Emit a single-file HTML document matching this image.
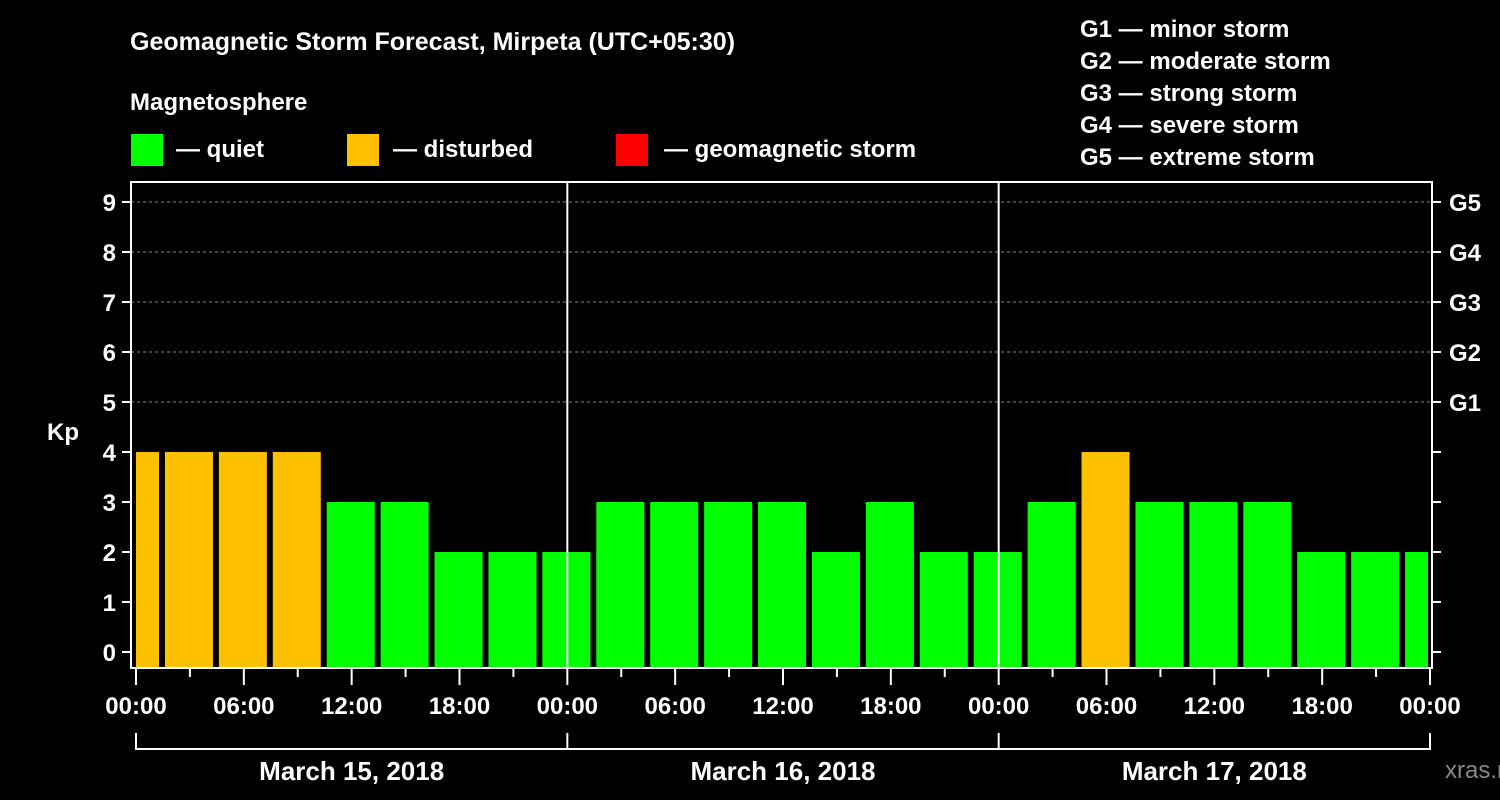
<!DOCTYPE html>
<html><head><meta charset="utf-8"><style>
html,body{margin:0;padding:0;background:#000;}
svg{display:block;font-family:"Liberation Sans",Arial,sans-serif;font-weight:bold;}
</style></head><body>
<svg id="chart" width="1500" height="800" viewBox="0 0 1500 800">
<rect x="0" y="0" width="1500" height="800" fill="#000"/>
<text x="130" y="50" font-size="25" fill="#fff">Geomagnetic Storm Forecast, Mirpeta (UTC+05:30)</text>
<text x="130" y="110" font-size="24" fill="#fff">Magnetosphere</text>
<g><rect x="131" y="134" width="32" height="32" fill="#00ff00"/><text x="176" y="157" font-size="24" fill="#fff">— quiet</text></g>
<g><rect x="347" y="134" width="32" height="32" fill="#ffc000"/><text x="393" y="157" font-size="24" fill="#fff">— disturbed</text></g>
<g><rect x="616" y="134" width="32" height="32" fill="#ff0000"/><text x="664" y="157" font-size="24" fill="#fff">— geomagnetic storm</text></g>
<g font-size="24" fill="#fff">
<text x="1080" y="37">G1 — minor storm</text>
<text x="1080" y="69">G2 — moderate storm</text>
<text x="1080" y="101">G3 — strong storm</text>
<text x="1080" y="133">G4 — severe storm</text>
<text x="1080" y="165">G5 — extreme storm</text>
</g>
<text x="63" y="440" font-size="24" fill="#fff" text-anchor="middle">Kp</text>
<text x="1445" y="778" font-size="24" fill="#888" font-weight="normal">xras.ru</text>
<g id="grid"></g>
<g id="bars"></g>
<g id="axes"></g>
</svg>
<script>
const kpValues=[4,4,4,4,3,3,2,2,2,3,3,3,3,2,3,2,2,3,4,3,3,3,2,2,2];
const yTicks=[0,1,2,3,4,5,6,7,8,9];
const gLabels=["G1","G2","G3","G4","G5"];
const xTickLabels=["00:00","06:00","12:00","18:00","00:00","06:00","12:00","18:00","00:00","06:00","12:00","18:00","00:00"];
const dayLabels=["March 15, 2018","March 16, 2018","March 17, 2018"];
const NS="http://www.w3.org/2000/svg";
const L=131,R=1432,T=182,B=668,X0=136,HPX=(1430-136)/72;
const y=v=>652-50*v;
const x=h=>X0+HPX*h;
function mk(tag,a,parent){const e=document.createElementNS(NS,tag);for(const k in a)e.setAttribute(k,a[k]);parent.appendChild(e);return e;}
const grid=document.getElementById('grid'),bars=document.getElementById('bars'),axes=document.getElementById('axes');
for(let v=5;v<=9;v++){const l=mk('line',{x1:L,x2:R,y1:y(v),y2:y(v),stroke:'#888','stroke-dasharray':'3,3','stroke-width':1},grid);

}
kpValues.forEach((v,i)=>{
 let x1=x(3*i-1.5)+2,x2=x1+48;
 x1=Math.max(x1,X0);x2=Math.min(x2,R-4);
 const c=v>=5?'#ff0000':(v>=4?'#ffc000':'#00ff00');
 const r=mk('rect',{x:x1,y:y(v),width:x2-x1,height:B-y(v),fill:c},bars);
 
 
});
const frame=mk('rect',{x:L,y:T,width:R-L,height:B-T,fill:'none',stroke:'#fff','stroke-width':2},axes);


[1,2].forEach(d=>{const l=mk('line',{x1:x(24*d),x2:x(24*d),y1:T,y2:B,stroke:'#fff','stroke-width':2},axes);

});
yTicks.forEach(v=>{
 mk('line',{x1:L-9,x2:L,y1:y(v),y2:y(v),stroke:'#fff','stroke-width':2},axes);
 mk('line',{x1:R,x2:R+9,y1:y(v),y2:y(v),stroke:'#fff','stroke-width':2},axes);
 const t=mk('text',{x:116,y:y(v)+9,'font-size':24,fill:'#fff','text-anchor':'end'},axes);t.textContent=v;
 
 
});
gLabels.forEach((g,i)=>{const t=mk('text',{x:1449,y:y(5+i)+9,'font-size':24,fill:'#fff'},axes);t.textContent=g;
 
 });
for(let h=0;h<=72;h+=3){const major=h%6===0;mk('line',{x1:x(h),x2:x(h),y1:B,y2:major?685:677,stroke:'#fff','stroke-width':2},axes);}
xTickLabels.forEach((s,i)=>{const t=mk('text',{x:x(6*i),y:714,'font-size':24,fill:'#fff','text-anchor':'middle'},axes);t.textContent=s;
 
 });
mk('line',{x1:x(0),x2:x(72),y1:749,y2:749,stroke:'#fff','stroke-width':2},axes);
for(let d=0;d<=3;d++)mk('line',{x1:x(24*d),x2:x(24*d),y1:733,y2:750,stroke:'#fff','stroke-width':2},axes);
dayLabels.forEach((s,i)=>{const t=mk('text',{x:x(24*i+12),y:780,'font-size':26,fill:'#fff','text-anchor':'middle'},axes);t.textContent=s;
 
 });
</script>
</body></html>
